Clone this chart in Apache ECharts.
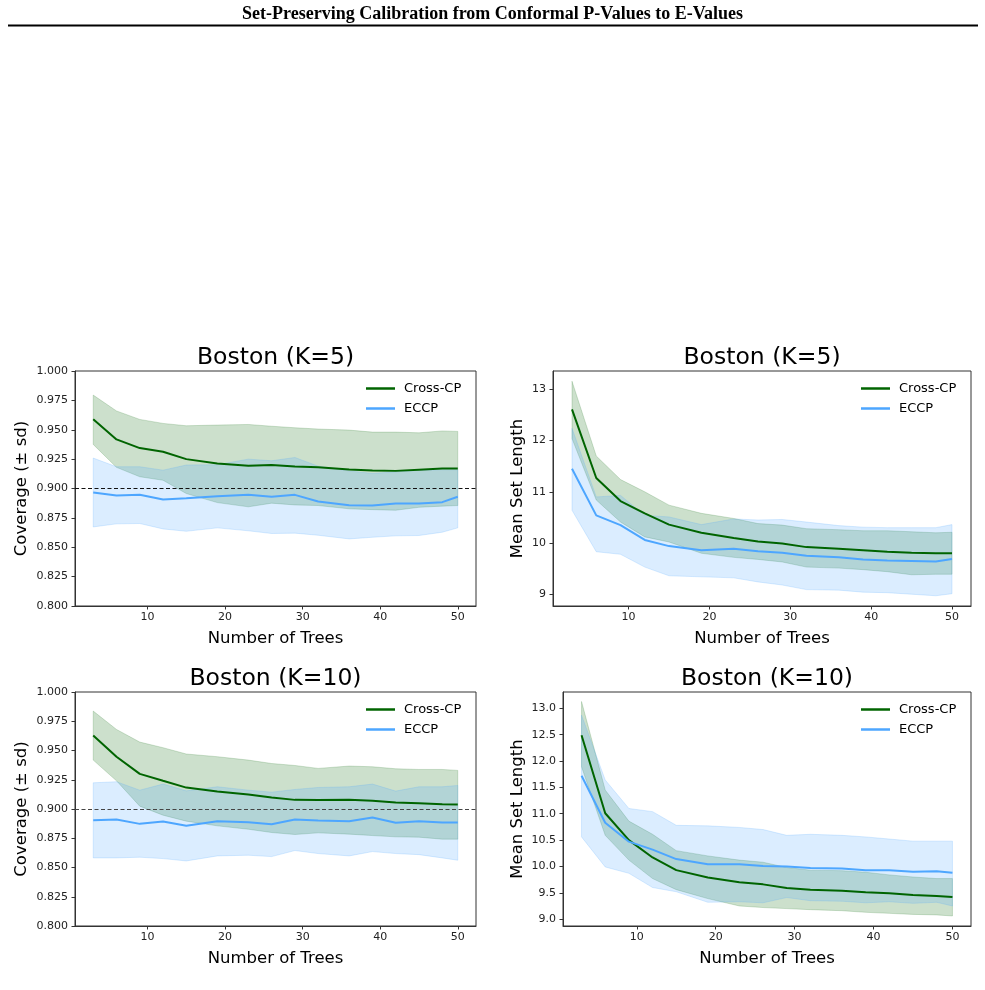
<!DOCTYPE html>
<html>
<head>
<meta charset="utf-8">
<script src="https://cdn.jsdelivr.net/npm/echarts@6/dist/echarts.min.js"></script>
<style>
html,body{margin:0;padding:0;background:#fff;}
#chart{width:985px;height:990px;}
</style>
</head>
<body>
<div id="chart"></div>
<script>
// ---- data ----
const trees = [3,6,9,12,15,19,23,26,29,32,36,39,42,45,48,50];
const xTicks = [10,20,30,40,50];

const cov5_cross    = [0.959,0.9418,0.9344,0.9313,0.925,0.9213,0.9193,0.920,0.9188,0.918,0.9162,0.9153,0.915,0.916,0.917,0.917];
const cov5_cross_hi = [0.9795,0.966,0.9588,0.9554,0.9534,0.954,0.9545,0.953,0.9517,0.9506,0.9497,0.948,0.948,0.9474,0.949,0.9486];
const cov5_cross_lo = [0.9375,0.918,0.910,0.907,0.8957,0.888,0.8844,0.8875,0.886,0.8855,0.8827,0.882,0.8815,0.884,0.885,0.8855];
const cov5_eccp     = [0.8966,0.894,0.8946,0.8906,0.8918,0.8935,0.8946,0.893,0.8946,0.889,0.8858,0.8855,0.8872,0.8872,0.8884,0.893];
const cov5_eccp_hi  = [0.9259,0.9185,0.9185,0.9156,0.920,0.9202,0.925,0.9236,0.9264,0.919,0.915,0.9128,0.9142,0.9156,0.916,0.916];
const cov5_eccp_lo  = [0.8673,0.8699,0.8702,0.8656,0.8636,0.8665,0.864,0.8617,0.862,0.8602,0.8571,0.8585,0.8597,0.86,0.8628,0.8665];

const len5_cross    = [12.61,11.27,10.82,10.58,10.36,10.20,10.10,10.03,9.99,9.92,9.89,9.86,9.83,9.81,9.80,9.80];
const len5_cross_hi = [13.16,11.70,11.24,11.00,10.74,10.58,10.48,10.38,10.35,10.28,10.26,10.24,10.24,10.22,10.20,10.21];
const len5_cross_lo = [12.04,10.84,10.41,10.12,10.02,9.80,9.72,9.68,9.63,9.53,9.51,9.48,9.44,9.38,9.39,9.39];
const len5_eccp     = [11.45,10.54,10.35,10.06,9.94,9.86,9.89,9.84,9.81,9.75,9.72,9.68,9.66,9.65,9.64,9.69];
const len5_eccp_hi  = [12.24,10.90,10.93,10.54,10.51,10.36,10.47,10.45,10.46,10.41,10.34,10.31,10.30,10.30,10.30,10.36];
const len5_eccp_lo  = [10.64,9.83,9.78,9.53,9.36,9.34,9.32,9.24,9.18,9.09,9.08,9.04,9.03,9.00,8.97,9.01];

const cov10_cross    = [0.9629,0.9447,0.930,0.9241,0.9183,0.915,0.9124,0.9098,0.9078,0.9076,0.9078,0.907,0.9056,0.905,0.9041,0.9039];
const cov10_cross_hi = [0.9837,0.968,0.9572,0.9524,0.947,0.9447,0.9418,0.9389,0.9372,0.9347,0.9367,0.9361,0.9344,0.9338,0.9338,0.933];
const cov10_cross_lo = [0.9418,0.9241,0.9024,0.8947,0.8896,0.8856,0.8827,0.8799,0.8782,0.8796,0.8785,0.8773,0.8762,0.8759,0.8742,0.8742];
const cov10_eccp     = [0.8904,0.891,0.8873,0.8893,0.8856,0.8896,0.8887,0.887,0.891,0.8902,0.8896,0.8927,0.8882,0.8896,0.8884,0.8884];
const cov10_eccp_hi  = [0.9224,0.9233,0.9161,0.9213,0.9155,0.919,0.9161,0.9144,0.9167,0.9184,0.919,0.9213,0.9153,0.919,0.919,0.9201];
const cov10_eccp_lo  = [0.8582,0.8582,0.8588,0.8576,0.8556,0.8599,0.8605,0.8593,0.8645,0.8619,0.8599,0.8636,0.8619,0.861,0.8582,0.8562];

const len10_cross    = [12.49,11.01,10.50,10.17,9.93,9.79,9.70,9.66,9.59,9.56,9.54,9.51,9.49,9.46,9.44,9.42];
const len10_cross_hi = [13.13,11.45,10.86,10.61,10.30,10.20,10.12,10.08,9.98,9.93,9.92,9.89,9.84,9.80,9.77,9.77];
const len10_cross_lo = [11.89,10.59,10.12,9.77,9.56,9.39,9.25,9.22,9.20,9.18,9.16,9.13,9.11,9.09,9.08,9.06];
const len10_eccp     = [11.72,10.83,10.47,10.32,10.14,10.04,10.04,10.01,10.00,9.97,9.96,9.93,9.93,9.90,9.91,9.88];
const len10_eccp_hi  = [12.87,11.64,11.10,11.04,10.78,10.77,10.74,10.70,10.59,10.61,10.59,10.56,10.52,10.48,10.48,10.48];
const len10_eccp_lo  = [10.56,9.99,9.87,9.60,9.52,9.32,9.33,9.31,9.41,9.35,9.34,9.31,9.33,9.30,9.32,9.25];

const covTicks  = [0.800,0.825,0.850,0.875,0.900,0.925,0.950,0.975,1.000];
const len5Ticks = [9,10,11,12,13];
const len10Ticks = [9.0,9.5,10.0,10.5,11.0,11.5,12.0,12.5,13.0];

const headerText = 'Set-Preserving Calibration from Conformal P-Values to E-Values';
const seriesNames = ['Cross-CP','ECCP'];

// ---- styling ----
const FONT = 'DejaVu Sans';
const GREEN = '#006400';
const BLUE = '#4da6ff';
const GREEN_FILL = 'rgba(0,100,0,0.2)';
const BLUE_FILL = 'rgba(77,166,255,0.2)';
const AXIS_COLOR = '#333';

const panels = [
  {grid:{left:75, top:371, width:401, height:235}, title:'Boston (K=5)', titleTop:346,
   yName:'Coverage (± sd)', yGap:45, yMin:0.8, yMax:1.0, yTicks:covTicks, dec:3, ref:0.9, refColor:'#111',
   cross:[cov5_cross,cov5_cross_lo,cov5_cross_hi], eccp:[cov5_eccp,cov5_eccp_lo,cov5_eccp_hi],
   legend:{left:366, top:382}},
  {grid:{left:553, top:371, width:418, height:235}, title:'Boston (K=5)', titleTop:346,
   yName:'Mean Set Length', yGap:27, yMin:8.77, yMax:13.36, yTicks:len5Ticks, dec:0, ref:null,
   cross:[len5_cross,len5_cross_lo,len5_cross_hi], eccp:[len5_eccp,len5_eccp_lo,len5_eccp_hi],
   legend:{left:861, top:382}},
  {grid:{left:75, top:692, width:401, height:234}, title:'Boston (K=10)', titleTop:667,
   yName:'Coverage (± sd)', yGap:45, yMin:0.8, yMax:1.0, yTicks:covTicks, dec:3, ref:0.9, refColor:'#444',
   cross:[cov10_cross,cov10_cross_lo,cov10_cross_hi], eccp:[cov10_eccp,cov10_eccp_lo,cov10_eccp_hi],
   legend:{left:366, top:703}},
  {grid:{left:563, top:692, width:408, height:234}, title:'Boston (K=10)', titleTop:667,
   yName:'Mean Set Length', yGap:37, yMin:8.87, yMax:13.31, yTicks:len10Ticks, dec:1, ref:null,
   cross:[len10_cross,len10_cross_lo,len10_cross_hi], eccp:[len10_eccp,len10_eccp_lo,len10_eccp_hi],
   legend:{left:861, top:703}}
];

const pairs = (ys) => trees.map((x,i)=>[x, ys[i]]);
const triples = (lo, hi) => trees.map((x,i)=>[x, lo[i], hi[i]]);

// band polygon drawn once per series through the axis scales (api.coord)
function bandRenderer(fill, edge) {
  return function(params, api) {
    if (params.dataIndex !== 0) return null;
    const n = params.dataInsideLength;
    const up = [], down = [];
    for (let i = 0; i < n; i++) {
      const x = api.value(0, i);
      down.push(api.coord([x, api.value(1, i)]));
      up.push(api.coord([x, api.value(2, i)]));
    }
    const pts = up.concat(down.reverse());
    return {type:'polygon', shape:{points:pts}, silent:true,
      style:{fill:fill, stroke:edge, lineWidth:0.8}};
  };
}

const option = {
  animation:false,
  backgroundColor:'#fff',
  textStyle:{fontFamily:FONT},
  title:[], grid:[], xAxis:[], yAxis:[], legend:[], series:[],
  graphic:[
    {type:'text', left:'center', top:5, style:{text:headerText, font:'bold 18px "Liberation Serif"', fill:'#000'}},
    {type:'line', shape:{x1:8, y1:25.5, x2:978, y2:25.5}, style:{stroke:'#000', lineWidth:2}}
  ]
};

panels.forEach((p, k) => {
  const g = p.grid;
  option.grid.push({left:g.left, top:g.top, width:g.width, height:g.height, show:true,
    borderColor:AXIS_COLOR, borderWidth:1, backgroundColor:'transparent', containLabel:false});
  option.title.push({text:p.title, left:g.left + g.width/2, top:p.titleTop, textAlign:'center', padding:0,
    textStyle:{fontFamily:FONT, fontSize:23.5, fontWeight:'normal', color:'#000'}});
  option.xAxis.push({type:'value', gridIndex:k, min:0.65, max:52.35,
    name:'Number of Trees', nameLocation:'middle', nameGap:24,
    nameTextStyle:{fontFamily:FONT, fontSize:16.5, color:'#000'},
    axisLine:{show:true, lineStyle:{color:AXIS_COLOR, width:1}},
    axisTick:{show:true, length:3.5, inside:false, customValues:xTicks, lineStyle:{color:AXIS_COLOR}},
    axisLabel:{show:true, customValues:xTicks, fontFamily:FONT, fontSize:11, color:'#222', margin:6},
    splitLine:{show:false}});
  option.yAxis.push({type:'value', gridIndex:k, min:p.yMin, max:p.yMax,
    name:p.yName, nameLocation:'middle', nameGap:p.yGap, nameRotate:90,
    nameTextStyle:{fontFamily:FONT, fontSize:16.5, color:'#000'},
    axisLine:{show:true, lineStyle:{color:AXIS_COLOR, width:1}},
    axisTick:{show:true, length:3.5, inside:false, customValues:p.yTicks, lineStyle:{color:AXIS_COLOR}},
    axisLabel:{show:true, customValues:p.yTicks, fontFamily:FONT, fontSize:11, color:'#222', margin:7,
      formatter:(v)=>Number(v).toFixed(p.dec)},
    splitLine:{show:false}});
  option.legend.push({orient:'vertical', left:p.legend.left, top:p.legend.top, padding:0, itemGap:7,
    itemWidth:29, itemHeight:2.5, icon:'rect', itemStyle:{borderWidth:0},
    textStyle:{fontFamily:FONT, fontSize:13, color:'#000', padding:[0,0,0,4]},
    data:seriesNames});

  option.series.push({type:'custom', xAxisIndex:k, yAxisIndex:k, z:1, silent:true,
    data:triples(p.cross[1], p.cross[2]), encode:{x:0, y:[1,2]},
    renderItem:bandRenderer(GREEN_FILL, 'rgba(0,100,0,0.22)')});
  option.series.push({type:'custom', xAxisIndex:k, yAxisIndex:k, z:1, silent:true,
    data:triples(p.eccp[1], p.eccp[2]), encode:{x:0, y:[1,2]},
    renderItem:bandRenderer(BLUE_FILL, 'rgba(77,166,255,0.25)')});

  const crossSeries = {type:'line', name:'Cross-CP', xAxisIndex:k, yAxisIndex:k, data:pairs(p.cross[0]),
    symbol:'none', z:3, color:GREEN, lineStyle:{color:GREEN, width:2}};
  const eccpSeries = {type:'line', name:'ECCP', xAxisIndex:k, yAxisIndex:k, data:pairs(p.eccp[0]),
    symbol:'none', z:3, color:BLUE, lineStyle:{color:BLUE, width:2}};
  if (p.ref !== null) {
    crossSeries.markLine = {silent:true, symbol:'none', label:{show:false}, animation:false,
      lineStyle:{color:p.refColor, type:[4,2.5], width:1}, data:[{yAxis:p.ref}]};
  }
  option.series.push(crossSeries, eccpSeries);
});

const chart = echarts.init(document.getElementById('chart'), null, {renderer:'canvas'});
chart.setOption(option);
</script>
</body>
</html>
